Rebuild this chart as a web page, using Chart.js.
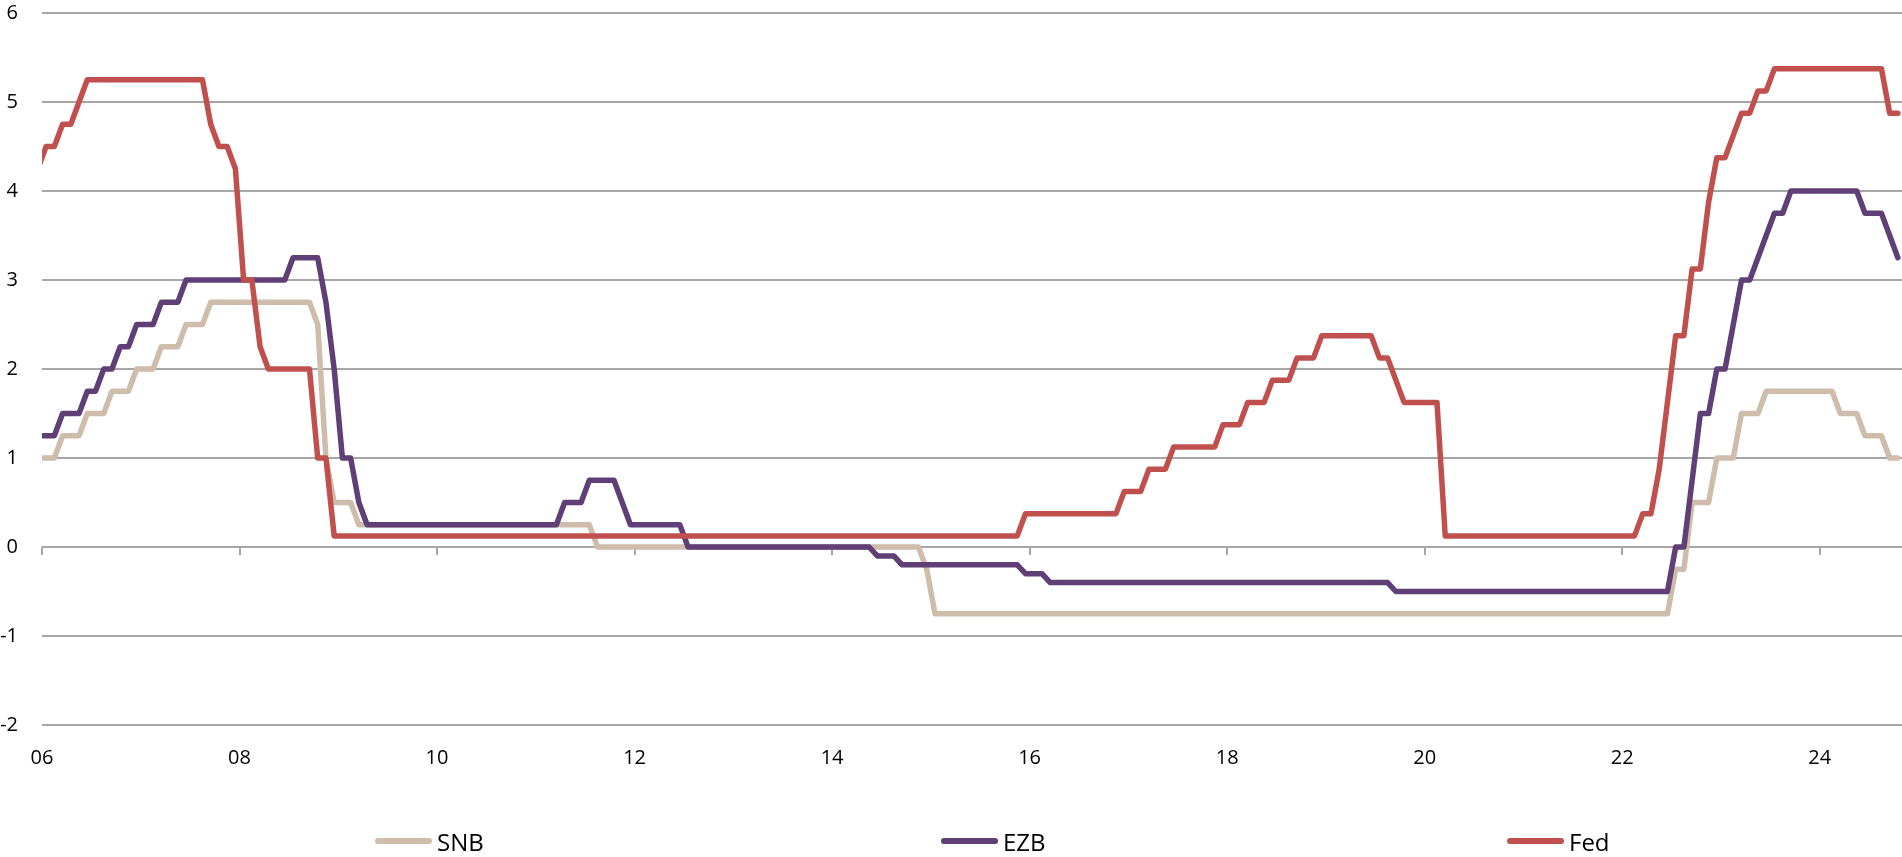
<!DOCTYPE html>
<html>
<head>
<meta charset="utf-8">
<script src="https://cdn.jsdelivr.net/npm/chart.js@4.4.1/dist/chart.umd.min.js"></script>
<style>
  body { margin: 0; background: #fff; }
  #wrap { position: relative; width: 1902px; height: 857px; }
  #legend { position: absolute; left: 0; top: 823px; height: 36px; display: flex; align-items: center;
            padding-left: 375px; font-family: "Open Sans", sans-serif; font-size: 24px; color: #000; }
  #legend .item { display: flex; align-items: center; width: 566px; }
  #legend .item:last-child { width: auto; }
  #legend .sw { display: inline-block; width: 57px; height: 6px; border-radius: 3px; margin-right: 5px; }
</style>
</head>
<body>
<div id="wrap">
  <canvas id="chart"></canvas>
  <div id="legend"></div>
</div>
<script>
// month-end policy rates, Dec 2005 .. Oct 2024 (one row per year)
const snb = [
  1.0,
  1.0, 1.0, 1.25, 1.25, 1.25, 1.5, 1.5, 1.5, 1.75, 1.75, 1.75, 2.0,
  2.0, 2.0, 2.25, 2.25, 2.25, 2.5, 2.5, 2.5, 2.75, 2.75, 2.75, 2.75,
  2.75, 2.75, 2.75, 2.75, 2.75, 2.75, 2.75, 2.75, 2.75, 2.5, 1.0, 0.5,
  0.5, 0.5, 0.25, 0.25, 0.25, 0.25, 0.25, 0.25, 0.25, 0.25, 0.25, 0.25,
  0.25, 0.25, 0.25, 0.25, 0.25, 0.25, 0.25, 0.25, 0.25, 0.25, 0.25, 0.25,
  0.25, 0.25, 0.25, 0.25, 0.25, 0.25, 0.25, 0, 0, 0, 0, 0,
  0, 0, 0, 0, 0, 0, 0, 0, 0, 0, 0, 0,
  0, 0, 0, 0, 0, 0, 0, 0, 0, 0, 0, 0,
  0, 0, 0, 0, 0, 0, 0, 0, 0, 0, 0, -0.25,
  -0.75, -0.75, -0.75, -0.75, -0.75, -0.75, -0.75, -0.75, -0.75, -0.75, -0.75, -0.75,
  -0.75, -0.75, -0.75, -0.75, -0.75, -0.75, -0.75, -0.75, -0.75, -0.75, -0.75, -0.75,
  -0.75, -0.75, -0.75, -0.75, -0.75, -0.75, -0.75, -0.75, -0.75, -0.75, -0.75, -0.75,
  -0.75, -0.75, -0.75, -0.75, -0.75, -0.75, -0.75, -0.75, -0.75, -0.75, -0.75, -0.75,
  -0.75, -0.75, -0.75, -0.75, -0.75, -0.75, -0.75, -0.75, -0.75, -0.75, -0.75, -0.75,
  -0.75, -0.75, -0.75, -0.75, -0.75, -0.75, -0.75, -0.75, -0.75, -0.75, -0.75, -0.75,
  -0.75, -0.75, -0.75, -0.75, -0.75, -0.75, -0.75, -0.75, -0.75, -0.75, -0.75, -0.75,
  -0.75, -0.75, -0.75, -0.75, -0.75, -0.75, -0.25, -0.25, 0.5, 0.5, 0.5, 1.0,
  1.0, 1.0, 1.5, 1.5, 1.5, 1.75, 1.75, 1.75, 1.75, 1.75, 1.75, 1.75,
  1.75, 1.75, 1.5, 1.5, 1.5, 1.25, 1.25, 1.25, 1.0, 1.0
];

const ezb = [
  1.25,
  1.25, 1.25, 1.5, 1.5, 1.5, 1.75, 1.75, 2.0, 2.0, 2.25, 2.25, 2.5,
  2.5, 2.5, 2.75, 2.75, 2.75, 3.0, 3.0, 3.0, 3.0, 3.0, 3.0, 3.0,
  3.0, 3.0, 3.0, 3.0, 3.0, 3.0, 3.25, 3.25, 3.25, 3.25, 2.75, 2.0,
  1.0, 1.0, 0.5, 0.25, 0.25, 0.25, 0.25, 0.25, 0.25, 0.25, 0.25, 0.25,
  0.25, 0.25, 0.25, 0.25, 0.25, 0.25, 0.25, 0.25, 0.25, 0.25, 0.25, 0.25,
  0.25, 0.25, 0.25, 0.5, 0.5, 0.5, 0.75, 0.75, 0.75, 0.75, 0.5, 0.25,
  0.25, 0.25, 0.25, 0.25, 0.25, 0.25, 0, 0, 0, 0, 0, 0,
  0, 0, 0, 0, 0, 0, 0, 0, 0, 0, 0, 0,
  0, 0, 0, 0, 0, -0.1, -0.1, -0.1, -0.2, -0.2, -0.2, -0.2,
  -0.2, -0.2, -0.2, -0.2, -0.2, -0.2, -0.2, -0.2, -0.2, -0.2, -0.2, -0.3,
  -0.3, -0.3, -0.4, -0.4, -0.4, -0.4, -0.4, -0.4, -0.4, -0.4, -0.4, -0.4,
  -0.4, -0.4, -0.4, -0.4, -0.4, -0.4, -0.4, -0.4, -0.4, -0.4, -0.4, -0.4,
  -0.4, -0.4, -0.4, -0.4, -0.4, -0.4, -0.4, -0.4, -0.4, -0.4, -0.4, -0.4,
  -0.4, -0.4, -0.4, -0.4, -0.4, -0.4, -0.4, -0.4, -0.5, -0.5, -0.5, -0.5,
  -0.5, -0.5, -0.5, -0.5, -0.5, -0.5, -0.5, -0.5, -0.5, -0.5, -0.5, -0.5,
  -0.5, -0.5, -0.5, -0.5, -0.5, -0.5, -0.5, -0.5, -0.5, -0.5, -0.5, -0.5,
  -0.5, -0.5, -0.5, -0.5, -0.5, -0.5, 0, 0, 0.75, 1.5, 1.5, 2.0,
  2.0, 2.5, 3.0, 3.0, 3.25, 3.5, 3.75, 3.75, 4.0, 4.0, 4.0, 4.0,
  4.0, 4.0, 4.0, 4.0, 4.0, 3.75, 3.75, 3.75, 3.5, 3.25
];

const fed = [
  4.25,
  4.5, 4.5, 4.75, 4.75, 5.0, 5.25, 5.25, 5.25, 5.25, 5.25, 5.25, 5.25,
  5.25, 5.25, 5.25, 5.25, 5.25, 5.25, 5.25, 5.25, 4.75, 4.5, 4.5, 4.25,
  3.0, 3.0, 2.25, 2.0, 2.0, 2.0, 2.0, 2.0, 2.0, 1.0, 1.0, 0.125,
  0.125, 0.125, 0.125, 0.125, 0.125, 0.125, 0.125, 0.125, 0.125, 0.125, 0.125, 0.125,
  0.125, 0.125, 0.125, 0.125, 0.125, 0.125, 0.125, 0.125, 0.125, 0.125, 0.125, 0.125,
  0.125, 0.125, 0.125, 0.125, 0.125, 0.125, 0.125, 0.125, 0.125, 0.125, 0.125, 0.125,
  0.125, 0.125, 0.125, 0.125, 0.125, 0.125, 0.125, 0.125, 0.125, 0.125, 0.125, 0.125,
  0.125, 0.125, 0.125, 0.125, 0.125, 0.125, 0.125, 0.125, 0.125, 0.125, 0.125, 0.125,
  0.125, 0.125, 0.125, 0.125, 0.125, 0.125, 0.125, 0.125, 0.125, 0.125, 0.125, 0.125,
  0.125, 0.125, 0.125, 0.125, 0.125, 0.125, 0.125, 0.125, 0.125, 0.125, 0.125, 0.375,
  0.375, 0.375, 0.375, 0.375, 0.375, 0.375, 0.375, 0.375, 0.375, 0.375, 0.375, 0.625,
  0.625, 0.625, 0.875, 0.875, 0.875, 1.125, 1.125, 1.125, 1.125, 1.125, 1.125, 1.375,
  1.375, 1.375, 1.625, 1.625, 1.625, 1.875, 1.875, 1.875, 2.125, 2.125, 2.125, 2.375,
  2.375, 2.375, 2.375, 2.375, 2.375, 2.375, 2.125, 2.125, 1.875, 1.625, 1.625, 1.625,
  1.625, 1.625, 0.125, 0.125, 0.125, 0.125, 0.125, 0.125, 0.125, 0.125, 0.125, 0.125,
  0.125, 0.125, 0.125, 0.125, 0.125, 0.125, 0.125, 0.125, 0.125, 0.125, 0.125, 0.125,
  0.125, 0.125, 0.375, 0.375, 0.875, 1.625, 2.375, 2.375, 3.125, 3.125, 3.875, 4.375,
  4.375, 4.625, 4.875, 4.875, 5.125, 5.125, 5.375, 5.375, 5.375, 5.375, 5.375, 5.375,
  5.375, 5.375, 5.375, 5.375, 5.375, 5.375, 5.375, 5.375, 4.875, 4.875
];

const seriesNames = ['SNB', 'EZB', 'Fed'];
const seriesColors = ['#CEBDAA', '#5F3F75', '#C0504D'];
const xTickLabels = ['06', '08', '10', '12', '14', '16', '18', '20', '22', '24'];
const yTicks = [-2, -1, 0, 1, 2, 3, 4, 5, 6];

// months counted from Jan 2006; a month-end value sits in the middle of its month
const firstMonth = -1; // Dec 2005
function toPoints(values) {
  return values.map((v, k) => ({ x: firstMonth + k + 0.5, y: v }));
}

const gridGrey = '#A6A6A6';
const font = '"Open Sans", sans-serif';

// keep label overflow from pushing the plot area around
function noOverflow(s) {
  s.paddingTop = 0; s.paddingBottom = 0; s.paddingLeft = 0; s.paddingRight = 0;
}

const datasets = [snb, ezb, fed].map((vals, i) => ({
  label: seriesNames[i],
  data: toPoints(vals),
  borderColor: seriesColors[i],
  backgroundColor: seriesColors[i],
  borderWidth: 5.5,
  pointRadius: 0,
  borderJoinStyle: 'round',
  borderCapStyle: 'round',
  tension: 0,
  order: 3 - i
}));

const chart = new Chart(document.getElementById('chart'), {
  type: 'line',
  data: { datasets: datasets },
  options: {
    responsive: true,
    maintainAspectRatio: false,
    animation: false,
    layout: { padding: { top: 13, right: 0, bottom: 87, left: 0 } },
    plugins: { legend: { display: false }, tooltip: { enabled: false } },
    scales: {
      x: {
        type: 'linear',
        position: 'bottom',
        min: 0,
        max: 226,
        afterFit: s => { noOverflow(s); s.height = 45; },
        grid: { display: false, drawTicks: false },
        border: { display: false },
        ticks: {
          stepSize: 24,
          includeBounds: false,
          autoSkip: false,
          maxRotation: 0,
          padding: 21,
          color: '#000',
          font: { family: font, size: 20 },
          callback: v => xTickLabels[v / 24]
        }
      },
      xZero: {
        type: 'linear',
        axis: 'x',
        position: { y: 0 },
        min: 0,
        max: 226,
        afterFit: s => { noOverflow(s); s.height = 0; },
        grid: { drawOnChartArea: false, drawTicks: true, tickLength: 8, color: gridGrey, lineWidth: 2 },
        border: { display: false },
        ticks: { display: false, stepSize: 24, includeBounds: false }
      },
      y: {
        min: yTicks[0],
        max: yTicks[yTicks.length - 1],
        afterFit: s => { noOverflow(s); s.width = 42; },
        grid: { color: gridGrey, lineWidth: 2, drawTicks: false },
        border: { display: false },
        ticks: {
          stepSize: 1,
          padding: 24,
          color: '#000',
          font: { family: font, size: 20 }
        }
      }
    }
  }
});

// legend below the plot, one entry per series
const legend = document.getElementById('legend');
chart.data.datasets.forEach(ds => {
  const item = document.createElement('div');
  item.className = 'item';
  const sw = document.createElement('span');
  sw.className = 'sw';
  sw.style.background = ds.borderColor;
  const txt = document.createElement('span');
  txt.textContent = ds.label;
  item.appendChild(sw);
  item.appendChild(txt);
  legend.appendChild(item);
});
</script>
</body>
</html>
